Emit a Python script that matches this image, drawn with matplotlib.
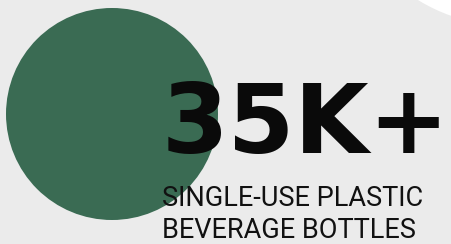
import matplotlib
matplotlib.use("Agg")
import matplotlib.pyplot as plt
from matplotlib.patches import Circle

# content
headline = "35K+"
caption_lines = ["SINGLE-USE PLASTIC", "BEVERAGE BOTTLES"]

# canvas in pixel units (452 x 244), y pointing down
W, H = 452, 244
bg_color = "#ebebeb"
green = "#3a6b53"

fig = plt.figure(figsize=(W / 100, H / 100), dpi=100)
fig.patch.set_facecolor(bg_color)
ax = fig.add_axes([0, 0, 1, 1])
ax.set_xlim(0, W)
ax.set_ylim(H, 0)
ax.set_aspect("equal")
ax.axis("off")

# torn white paper corner at the top right
ax.add_patch(Circle((510, -150), 176, facecolor="white", edgecolor="none", zorder=1))

# green dot
ax.add_patch(Circle((112, 114), 106, facecolor=green, edgecolor="none", zorder=2))

ax.text(162, 153, headline, fontsize=69, fontweight="bold", family="DejaVu Sans",
        color="#0a0a0a", ha="left", va="baseline", zorder=3)

for i, line in enumerate(caption_lines):
    ax.text(162, 206 + 32 * i, line, fontsize=19.5, family="Roboto",
            color="#111111", ha="left", va="baseline", zorder=3)

fig.savefig("out.png", dpi=100, facecolor=fig.get_facecolor())
